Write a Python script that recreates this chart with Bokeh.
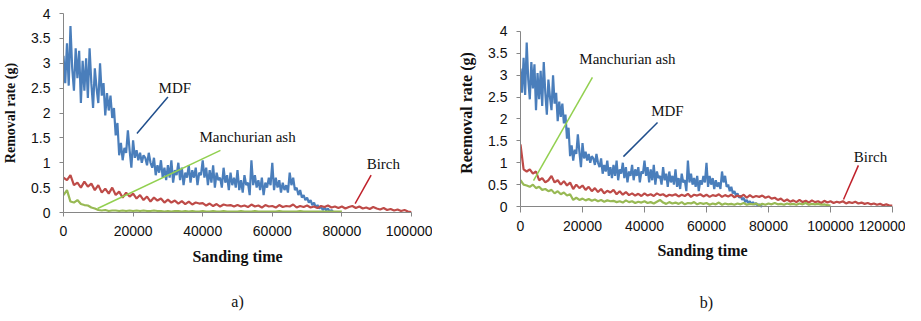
import numpy as np
from bokeh.plotting import figure
from bokeh.models import Range1d, FixedTicker, Label, Span, LinearAxis
from bokeh.layouts import row
from bokeh.embed import file_html
from bokeh.resources import INLINE

# ---------------- data ----------------
mdf_step = 500
series_step = 1000

# MDF removal rate (g), sampled every 500 time units (same curve in a and b)
mdf = [3.15, 2.6, 3.4, 2.55, 3.75, 2.9, 2.45, 3.3, 2.7, 3.25,
       2.2, 3.05, 2.45, 3.1, 2.3, 3.3, 2.6, 2.1, 2.9, 2.5,
       2.2, 3.0, 2.35, 2.6, 1.95, 2.4, 2.05, 2.35, 1.9, 2.1,
       1.55, 1.8, 1.15, 1.4, 1.05, 1.3, 1.2, 1.65, 1.25, 0.9,
       1.45, 1.1, 1.25, 1.05, 1.2, 1.0, 1.15, 1.1, 0.95, 1.2,
       1.0, 0.9, 1.1, 0.75, 0.95, 0.8, 1.05, 0.7, 0.9, 0.65,
       0.95, 0.7, 1.05, 0.6, 0.85, 0.75, 1.0, 0.65, 0.9, 0.55,
       0.8, 0.7, 0.95, 0.6, 0.85, 0.7, 0.9, 0.55, 0.8, 0.75,
       1.05, 0.7, 0.9, 0.55, 0.85, 0.6, 0.95, 0.5, 0.8, 0.65,
       0.7, 0.5, 0.9, 0.6, 0.75, 0.45, 0.8, 0.55, 0.7, 0.5,
       0.85, 0.45, 0.65, 0.4, 0.75, 0.55, 0.6, 0.35, 1.05, 0.55,
       0.75, 0.5, 0.65, 0.45, 0.7, 0.35, 0.6, 0.5, 0.7, 0.55,
       1.0, 0.45, 0.7, 0.5, 0.65, 0.4, 0.6, 0.45, 0.55, 0.4,
       0.8, 0.55, 0.7, 0.45, 0.5, 0.35, 0.45, 0.3, 0.35, 0.25,
       0.3, 0.2, 0.25, 0.15, 0.2, 0.1, 0.15, 0.08, 0.12, 0.05,
       0.1, 0.04, 0.08, 0.02, 0.05, 0.01, 0.0]

# chart a) Birch, every 1000
birch_a = [0.7, 0.65, 0.75, 0.55, 0.6, 0.5, 0.62, 0.52, 0.58, 0.45,
           0.55, 0.4, 0.48, 0.38, 0.5, 0.35, 0.42, 0.3, 0.4, 0.32,
           0.38, 0.28, 0.35, 0.25, 0.32, 0.22, 0.3, 0.24, 0.28, 0.2,
           0.26, 0.2, 0.24, 0.18, 0.23, 0.17, 0.22, 0.16, 0.2, 0.18,
           0.19, 0.14, 0.18, 0.13, 0.17, 0.12, 0.16, 0.14, 0.15, 0.12,
           0.15, 0.12, 0.14, 0.11, 0.16, 0.12, 0.14, 0.1, 0.15, 0.12,
           0.13, 0.1, 0.15, 0.11, 0.13, 0.12, 0.16, 0.1, 0.13, 0.11,
           0.14, 0.1, 0.12, 0.09, 0.13, 0.11, 0.14, 0.1, 0.12, 0.09,
           0.12, 0.08, 0.11, 0.13, 0.09, 0.12, 0.08, 0.1, 0.07, 0.11,
           0.08, 0.06, 0.09, 0.05, 0.07, 0.04, 0.06, 0.03, 0.05, 0.02,
           0.01]

# chart a) Manchurian ash, every 1000
ash_a = [0.35, 0.45, 0.22, 0.2, 0.25, 0.17, 0.15, 0.14, 0.1, 0.08,
         0.05, 0.04, 0.05, 0.03, 0.04, 0.04, 0.03, 0.04, 0.03, 0.04,
         0.03, 0.04, 0.03, 0.04, 0.03, 0.03, 0.04, 0.03, 0.03, 0.02,
         0.03, 0.02, 0.03, 0.03, 0.02, 0.03, 0.02, 0.03, 0.02, 0.02,
         0.03, 0.02, 0.02, 0.03, 0.02, 0.02, 0.03, 0.02, 0.02, 0.02,
         0.02, 0.03, 0.02, 0.02, 0.02, 0.03, 0.02, 0.02, 0.02, 0.02,
         0.02, 0.02, 0.03, 0.02, 0.02, 0.02, 0.02, 0.02, 0.03, 0.02,
         0.02, 0.02, 0.02, 0.02, 0.02, 0.02, 0.02, 0.02, 0.02, 0.02,
         0.02]

# chart b) Birch, every 1000
birch_b = [1.42, 0.85, 0.8, 0.85, 0.75, 0.8, 0.6, 0.65, 0.55, 0.6,
           0.7, 0.55, 0.6, 0.5, 0.58, 0.48, 0.55, 0.4, 0.5, 0.42,
           0.48, 0.38, 0.45, 0.35, 0.42, 0.33, 0.4, 0.3, 0.36, 0.32,
           0.38, 0.28, 0.35, 0.27, 0.33, 0.26, 0.3, 0.25, 0.29, 0.24,
           0.3, 0.25, 0.28, 0.24, 0.3, 0.26, 0.28, 0.23, 0.27, 0.25,
           0.28, 0.23, 0.27, 0.24, 0.29, 0.22, 0.27, 0.25, 0.28, 0.23,
           0.27, 0.22, 0.26, 0.24, 0.28, 0.22, 0.26, 0.23, 0.27, 0.21,
           0.25, 0.22, 0.27, 0.2, 0.26, 0.21, 0.24, 0.22, 0.25, 0.2,
           0.23, 0.18, 0.2, 0.15, 0.18, 0.12, 0.16, 0.11, 0.14, 0.1,
           0.15, 0.1, 0.13, 0.09, 0.14, 0.1, 0.12, 0.08, 0.13, 0.09,
           0.12, 0.08, 0.11, 0.09, 0.12, 0.07, 0.1, 0.08, 0.11, 0.07,
           0.09, 0.06, 0.08, 0.05, 0.07, 0.04, 0.06, 0.03, 0.05, 0.02,
           0.02]

# chart b) Manchurian ash, every 1000
ash_b = [0.6, 0.5, 0.48, 0.45, 0.5, 0.42, 0.45, 0.38, 0.4, 0.35,
         0.38, 0.3, 0.35, 0.28, 0.32, 0.25, 0.28, 0.15, 0.2, 0.15,
         0.18, 0.14, 0.17, 0.13, 0.16, 0.12, 0.15, 0.11, 0.14, 0.12,
         0.13, 0.1, 0.12, 0.09, 0.14, 0.1, 0.12, 0.08, 0.11, 0.09,
         0.12, 0.08, 0.1, 0.07, 0.11, 0.15, 0.09, 0.06, 0.1, 0.07,
         0.09, 0.06, 0.1, 0.05, 0.08, 0.07, 0.1, 0.05, 0.08, 0.06,
         0.08, 0.04, 0.07, 0.05, 0.09, 0.04, 0.07, 0.05, 0.06, 0.04,
         0.07, 0.05, 0.08, 0.04, 0.06, 0.05, 0.07, 0.03, 0.06, 0.04,
         0.07, 0.05, 0.08, 0.05, 0.06, 0.04, 0.07, 0.05, 0.06, 0.04,
         0.07, 0.05, 0.08, 0.04, 0.06, 0.05, 0.06, 0.04, 0.05, 0.03,
         0.02]

y_ticks = [0, 0.5, 1, 1.5, 2, 2.5, 3, 3.5, 4]
y_tick_labels = ["0", "0.5", "1", "1.5", "2", "2.5", "3", "3.5", "4"]
x_ticks_a = [0, 20000, 40000, 60000, 80000, 100000]
x_ticks_b = [0, 20000, 40000, 60000, 80000, 100000, 120000]

# annotation texts: (text, text x, text y, leader start x, y, leader end x, y)
notes_a = [("MDF", 32000, 2.5, 30000, 2.32, 21100, 1.59),
           ("Manchurian ash", 52900, 1.51, 45100, 1.25, 9800, 0.08),
           ("Birch", 91900, 0.97, 88400, 0.75, 83800, 0.18)]
notes_b = [("Manchurian ash", 34500, 3.36, 23200, 2.95, 4200, 0.59),
           ("MDF", 47400, 2.19, 44200, 1.92, 33200, 1.14),
           ("Birch", 112900, 1.14, 109000, 0.94, 104200, 0.16)]

C_MDF, C_BIRCH, C_ASH = "#4A7EBB", "#BE4B48", "#98B954"
L_MDF, L_BIRCH, L_ASH = "#1F4E8C", "#C0202A", "#92D050"
leader_colors = {"MDF": L_MDF, "Birch": L_BIRCH, "Manchurian ash": L_ASH}
AXIS_GREY = "#868686"

t_mdf = np.arange(len(mdf)) * mdf_step


def make(xmax, xticks, birch, ash, notes, ylabel, xlabel, tag, tag_standoff,
         width, bl, br, y_lo, y_hi, ylab_size, lifted_axis):
    p = figure(width=width, height=313, output_backend="svg",
               toolbar_location=None, x_range=Range1d(0, xmax),
               y_range=Range1d(y_lo, y_hi))
    p.min_border_left = bl
    p.min_border_right = br
    p.min_border_top = 13
    p.min_border_bottom = 101
    p.outline_line_color = None
    p.grid.grid_line_color = None

    tb = np.arange(len(birch)) * series_step
    ta = np.arange(len(ash)) * series_step
    p.line(t_mdf, mdf, line_color=C_MDF, line_width=2.2)
    p.line(tb, birch, line_color=C_BIRCH, line_width=2.2)
    p.line(ta, ash, line_color=C_ASH, line_width=2.2)

    for (txt, tx, ty, x0, y0, x1, y1) in notes:
        p.segment(x0=[x0], y0=[y0], x1=[x1], y1=[y1],
                  line_color=leader_colors[txt], line_width=1.5)
        p.add_layout(Label(x=tx, y=ty, text=txt, text_font="Liberation Serif",
                           text_font_size="15px", text_align="center",
                           text_baseline="middle", text_color="#111111"))

    p.yaxis.ticker = FixedTicker(ticks=y_ticks)
    p.yaxis.major_label_overrides = dict(zip(y_ticks, y_tick_labels))
    p.yaxis.bounds = (0, 4)
    p.xaxis.ticker = FixedTicker(ticks=xticks)
    p.xaxis.major_label_overrides = {t: str(t) for t in xticks}
    for ax in (p.xaxis[0], p.yaxis[0]):
        ax.axis_line_color = AXIS_GREY
        ax.major_tick_line_color = AXIS_GREY
        ax.minor_tick_line_color = None
        ax.major_tick_in = 0
        ax.major_tick_out = 4
        ax.major_label_text_font = "Liberation Sans"
        ax.major_label_text_font_size = "14px"
        ax.major_label_text_color = "#111111"
        ax.axis_label_text_font = "Liberation Serif"
        ax.axis_label_text_font_style = "bold"
        ax.axis_label_text_color = "#111111"
    p.yaxis.axis_label = ylabel
    p.yaxis.axis_label_text_font_size = ylab_size
    p.yaxis.major_label_standoff = 9
    p.yaxis.axis_label_standoff = 10
    p.xaxis.axis_label = xlabel
    p.xaxis.axis_label_text_font_size = "16px"
    if lifted_axis:
        # the value 0 sits a few pixels above the panel's lower edge
        p.xaxis.axis_line_color = None
        p.xaxis.major_tick_in = 6
        p.xaxis.major_tick_out = 0
        p.xaxis.major_label_standoff = 8
        p.xaxis.axis_label_standoff = 8
        p.add_layout(Span(location=0, dimension="width",
                          line_color=AXIS_GREY, line_width=1))
    else:
        p.xaxis.major_label_standoff = 9
        p.xaxis.axis_label_standoff = 9

    # panel tag "a)" / "b)": a bare axis carrying only its title, below the first
    tag_axis = LinearAxis(ticker=FixedTicker(ticks=[]), axis_label=tag,
                          axis_line_color=None, major_tick_line_color=None,
                          minor_tick_line_color=None,
                          major_tick_in=0, major_tick_out=0,
                          axis_label_standoff=tag_standoff,
                          axis_label_text_font="Liberation Serif",
                          axis_label_text_font_size="16px",
                          axis_label_text_font_style="normal",
                          axis_label_text_color="#111111")
    p.add_layout(tag_axis, "below")
    return p


pa = make(100000, x_ticks_a, birch_a, ash_a, notes_a, "Removal rate (g)",
          "Sanding time", "a)", 25,
          432, 56, 21, 0, 4, "14px", False)
pb = make(120000, x_ticks_b, birch_b, ash_b, notes_b, "Reemoval rate (g)",
          "Sanding   time", "b)", 32,
          473, 88, 13, -0.137, 4.411, "16px", True)

layout = row(pa, pb)
open("out.html", "w").write(file_html(layout, INLINE))
